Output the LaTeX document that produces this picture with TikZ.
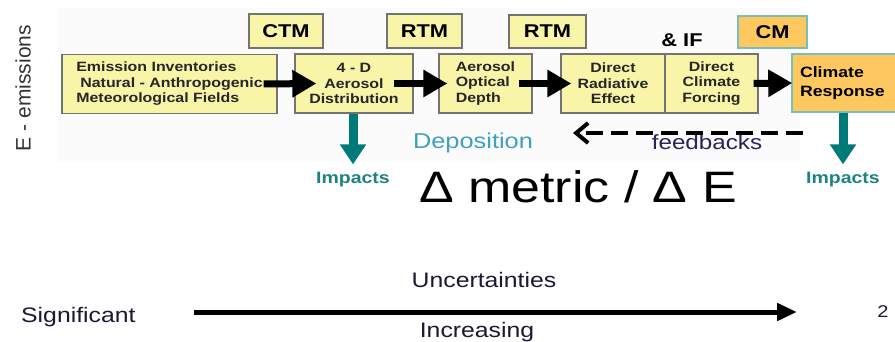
\documentclass[tikz,border=0pt]{standalone}
\usepackage{fontspec}
\setmainfont{Liberation Sans}
\newfontfamily\wf[FakeStretch=1.18]{Liberation Sans}
\usetikzlibrary{arrows.meta}
\definecolor{boxy}{RGB}{248,244,168}
\definecolor{boxo}{RGB}{255,200,95}
\definecolor{tealb}{RGB}{120,190,185}
\definecolor{tealc}{RGB}{0,122,120}
\definecolor{impc}{RGB}{30,130,130}
\definecolor{depc}{RGB}{65,160,190}
\definecolor{fbc}{RGB}{40,35,90}
\definecolor{txtc}{RGB}{25,25,50}
\begin{document}
\begin{tikzpicture}[x=1pt,y=-1pt,
  ybox/.style={draw=black!55, line width=1.3pt, fill=boxy, inner sep=0pt, align=center,
    font=\wf\bfseries\fontsize{13.5}{15.5}\selectfont, text=black!85},
  tbox/.style={draw=black!55, line width=1.3pt, fill=boxy, inner sep=0pt,
    font=\wf\bfseries\fontsize{18.5}{20}\selectfont},
  obox/.style={draw=tealb, line width=1.5pt, fill=boxo, inner sep=0pt},
  barr/.style={line width=7pt, -{Triangle[length=24pt,width=26pt]}},
  tarr/.style={draw=tealc, line width=9pt, -{Triangle[length=20pt,width=25pt]}},
  imp/.style={text=impc, font=\wf\bfseries\fontsize{16.5}{18}\selectfont, inner sep=0pt},
  btxt/.style={text=txtc, font=\wf\fontsize{21}{22}\selectfont, inner sep=0pt},
]
\useasboundingbox (0,0) rectangle (895,342);
\fill[black!1.5] (58,8) rectangle (800,162);

% main chain
\node[ybox, minimum width=215pt, minimum height=59pt, align=left] (emi) at (169.5,84)
  {Emission Inventories\\\hspace*{4pt}Natural - Anthropogenic\\Meteorological Fields};
\node[ybox, minimum width=118pt, minimum height=59pt] (fourd) at (354,83.5) {4 - D\\Aerosol\\Distribution};
\node[ybox, minimum width=93pt, minimum height=59pt, align=left] (aod) at (485.5,83.5) {Aerosol\\Optical\\Depth};
\node[ybox, minimum width=104pt, minimum height=59pt] (dre) at (613,83.5) {Direct\\Radiative\\Effect};
\node[ybox, minimum width=93pt, minimum height=59pt] (dcf) at (711.5,83.5) {Direct\\Climate\\Forcing};
\node[obox, minimum width=108pt, minimum height=58pt, align=left, text width=92pt,
  font=\wf\bfseries\fontsize{15}{19}\selectfont] (cr) at (846,83) {Climate\\Response};

% model boxes
\node[tbox, minimum width=74pt, minimum height=34pt] (ctm) at (286,31) {CTM};
\node[tbox, minimum width=75pt, minimum height=34pt] (rtm1) at (424.5,31) {RTM};
\node[tbox, minimum width=77pt, minimum height=33pt] (rtm2) at (547.5,31.5) {RTM};
\node[obox, minimum width=69pt, minimum height=32pt, font=\wf\bfseries\fontsize{18.5}{20}\selectfont] (cm) at (772.5,32) {CM};
\node[font=\wf\bfseries\fontsize{18.5}{20}\selectfont, inner sep=0pt] (andif) at (682,40) {\& IF};

% black arrows
\draw[barr] ([xshift=-14pt]emi.east) -- ([xshift=22pt]fourd.west);
\draw[barr] ([xshift=-20pt]fourd.east) -- ([xshift=9pt]aod.west);
\draw[barr] ([xshift=-14pt]aod.east) -- ([xshift=11pt]dre.west);
\draw[barr] ([xshift=-5pt]dcf.east) -- ([xshift=1pt]cr.west);

% impacts
\node[imp] (imp1) at (353,180) {Impacts};
\node[imp] (imp2) at (843,180) {Impacts};
\draw[tarr] (fourd.south -| imp1.north) -- ([yshift=8pt]imp1.north);
\draw[tarr] (cr.south -| imp2.north) -- ([yshift=8pt]imp2.north);

% deposition and feedbacks
\node[text=depc, font=\wf\fontsize{21.5}{22}\selectfont, inner sep=0pt] (dep) at (473,143) {Deposition};
\node[text=fbc, font=\wf\fontsize{20.5}{22}\selectfont, inner sep=0pt] (fb) at (707,142) {feedbacks};
\coordinate (fbs) at (803,133);
\coordinate (fbe) at (573,133);
\draw[line width=4pt, dash pattern=on 17pt off 8pt, -{Straight Barb[length=12pt,width=20pt]}] (fbs) -- (fbe);

% metric
\node[font=\wf\fontsize{44}{44}\selectfont, anchor=base, inner sep=0pt] (dm) at (578,203) {Δ metric / Δ E};

% side label
\node[rotate=90, font=\fontsize{21}{21}\selectfont, text=black!80, inner sep=0pt] (eem) at (23,88) {E - emissions};

% bottom
\node[btxt, anchor=base] (unc) at (484,287) {Uncertainties};
\node[btxt, anchor=base west] (sig) at (21,322) {Significant};
\node[btxt, anchor=base] (inc) at (477,337) {Increasing};
\node[text=txtc, font=\wf\fontsize{17}{17}\selectfont, anchor=base, inner sep=0pt] (two) at (883,317) {2};
\coordinate (as) at (194,312);
\coordinate (ae) at (797,312);
\draw[line width=5pt, -{Triangle[length=20pt,width=17pt]}] (as) -- (ae);
\end{tikzpicture}
\end{document}
